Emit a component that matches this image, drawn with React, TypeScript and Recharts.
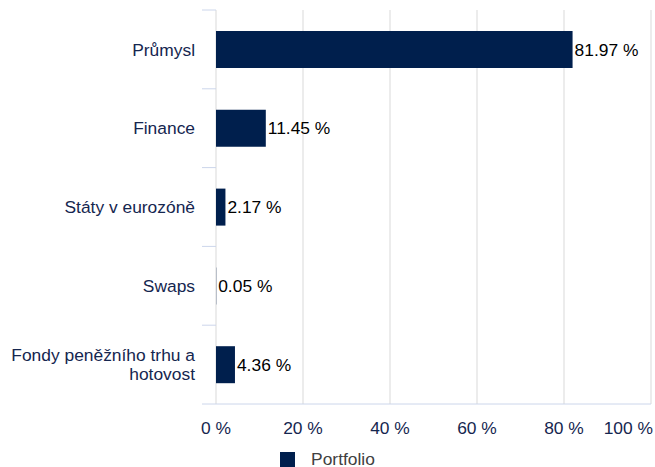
import { BarChart, Bar, XAxis, YAxis, CartesianGrid, Legend, LabelList, Text } from 'recharts';

const categories = ['Průmysl', 'Finance', 'Státy v eurozóně', 'Swaps', 'Fondy peněžního trhu a hotovost'];
const portfolio = [81.97, 11.45, 2.17, 0.05, 4.36];
const xTicks = [0, 20, 40, 60, 80, 100];

const data = categories.map((name, i) => ({ name, portfolio: portfolio[i] }));

const NAVY = '#15264f';
const BAR = '#001f4d';
const TICK_LINE = '#ccd6eb';
const FS = 17.4;

const XTick = (props: any) => {
  const { x, y, payload } = props;
  const last = payload.value === xTicks[xTicks.length - 1];
  return (
    <text
      x={last ? x + 2 : x}
      y={y}
      dy="0.71em"
      textAnchor={last ? 'end' : 'middle'}
      fill={NAVY}
      fontSize={FS}
    >
      {`${payload.value} %`}
    </text>
  );
};

// category label plus the short marks on the band boundaries (Highcharts style)
const CategoryTick = (props: any) => {
  const { x, y, payload, index, visibleTicksCount, height } = props;
  const band = typeof height === 'number' && visibleTicksCount ? height / visibleTicksCount : 0;
  const x1 = x + 7;
  const x2 = x + 21;
  return (
    <g>
      {band > 0 && <line x1={x1} x2={x2} y1={y - band / 2} y2={y - band / 2} stroke={TICK_LINE} />}
      {band > 0 && index === visibleTicksCount - 1 && (
        <line x1={x1} x2={x2} y1={y + band / 2} y2={y + band / 2} stroke={TICK_LINE} />
      )}
      <Text
        x={x}
        y={y}
        width={200}
        textAnchor="end"
        verticalAnchor="middle"
        lineHeight="1.1em"
        fill={NAVY}
        fontSize={FS}
      >
        {payload.value}
      </Text>
    </g>
  );
};

const renderLegend = (props: any) => {
  const { payload } = props;
  return (
    <div style={{ display: 'flex', justifyContent: 'center', alignItems: 'center', height: 18 }}>
      {(payload || []).map((entry: any) => (
        <div key={entry.value} style={{ display: 'flex', alignItems: 'center' }}>
          <span style={{ display: 'inline-block', width: 15, height: 15, background: entry.color, marginRight: 16 }} />
          <span style={{ color: '#404040', fontSize: FS }}>{entry.value}</span>
        </div>
      ))}
    </div>
  );
};

export default function App() {
  return (
    <div style={{ position: 'absolute', left: 0, top: 0, fontFamily: '"Liberation Sans", Arial, sans-serif' }}>
      <BarChart
        width={655}
        height={467}
        data={data}
        layout="vertical"
        margin={{ top: 10, right: 4, bottom: 33, left: 0 }}
      >
        <CartesianGrid horizontal={false} stroke="#d9d9d9" />
        <XAxis
          type="number"
          domain={[0, 100]}
          ticks={xTicks}
          interval={0}
          axisLine={{ stroke: TICK_LINE }}
          tickLine={false}
          tickSize={0}
          tickMargin={18}
          tick={<XTick />}
        />
        <YAxis
          type="category"
          dataKey="name"
          width={216}
          axisLine={false}
          tickLine={false}
          tickSize={0}
          tickMargin={21}
          interval={0}
          tick={<CategoryTick />}
        />
        <Legend verticalAlign="middle" align="center" content={renderLegend} wrapperStyle={{ top: 450, left: 0, width: 655 }} />
        <Bar dataKey="portfolio" name="Portfolio" fill={BAR} barSize={37} isAnimationActive={false}>
          <LabelList
            dataKey="portfolio"
            position="right"
            offset={2}
            fill="#000"
            fontSize={FS}
            formatter={(v: any) => `${v} %`}
          />
        </Bar>
      </BarChart>
    </div>
  );
}
